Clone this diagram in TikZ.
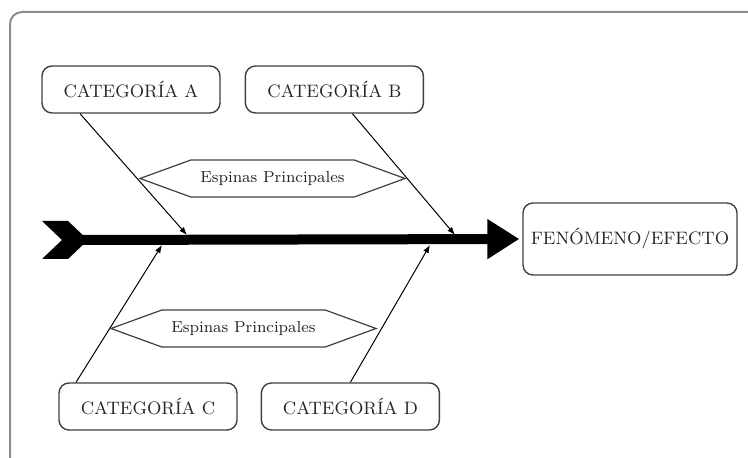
\documentclass[tikz,border=0pt]{standalone}
\usepackage{tikz}
\usetikzlibrary{shapes.symbols, arrows.meta, positioning}
\tikzstyle{cat} = [draw=black!75, line width=0.7pt, rectangle, rounded corners=5pt, fill=white, text=black!85, minimum width=89pt, minimum height=23.5pt, inner sep=1pt, font=\small]
\tikzstyle{effect} = [cat, minimum width=107pt, minimum height=36pt]
\tikzstyle{espina} = [draw=black!75, line width=0.6pt, signal, signal to=west and east, signal pointer angle=40, minimum width=132.5pt, minimum height=18.5pt, inner sep=0pt, text=black!85, font=\footnotesize]
\tikzstyle{bone} = [draw, line width=0.5pt, -{Latex[length=4pt,width=3pt]}]
\tikzstyle{spine} = [draw, line width=5pt, -{Triangle[length=16pt,width=19pt]}]
\tikzstyle{frame} = [draw=black!45, line width=1pt, rounded corners=6pt]

\begin{document}
\begin{tikzpicture}[x=0.5pt, y=-0.5pt]
	\useasboundingbox (0,0) rectangle (748,458);
	\clip (0,0) rectangle (748,458);
	\draw [frame] (10,12) rectangle (790,500);

	\node [cat] (catA) at (131,89.5) {CATEGORÍA A};
	\node [cat, right=12pt of catA] (catB) {CATEGORÍA B};
	\node [cat] (catC) at (148,406.5) {CATEGORÍA C};
	\node [cat, right=11.5pt of catC] (catD) {CATEGORÍA D};
	\node [effect] (efecto) at (630,239) {FENÓMENO/EFECTO};

	% cola del pescado
	\fill (42,221) -- (68,221) -- (88,240) -- (68,259) -- (42,259) -- (62,240) -- cycle;
	\coordinate (tail) at (80,240);
	\path [spine] (tail) -- ([xshift=-1.5pt]efecto.west);

	\coordinate [xshift=-25.5pt] (a0) at (catA.south);
	\coordinate [xshift=9pt] (b0) at (catB.south);
	\coordinate [xshift=-36pt] (c0) at (catC.north);
	\coordinate (d0) at (catD.north);
	\coordinate (a1) at (187,235);
	\coordinate (b1) at (455,235);
	\coordinate (c1) at (162,245);
	\coordinate (d1) at (430,245);

	\path [bone] (a0) -- (a1);
	\path [bone] (b0) -- (b1);
	\path [bone] (c0) -- (c1);
	\path [bone] (d0) -- (d1);

	\node [espina] (espAB) at (272.5,178.5) {Espinas Principales};
	\node [espina] (espCD) at (243.5,328.5) {Espinas Principales};
\end{tikzpicture}
\end{document}
